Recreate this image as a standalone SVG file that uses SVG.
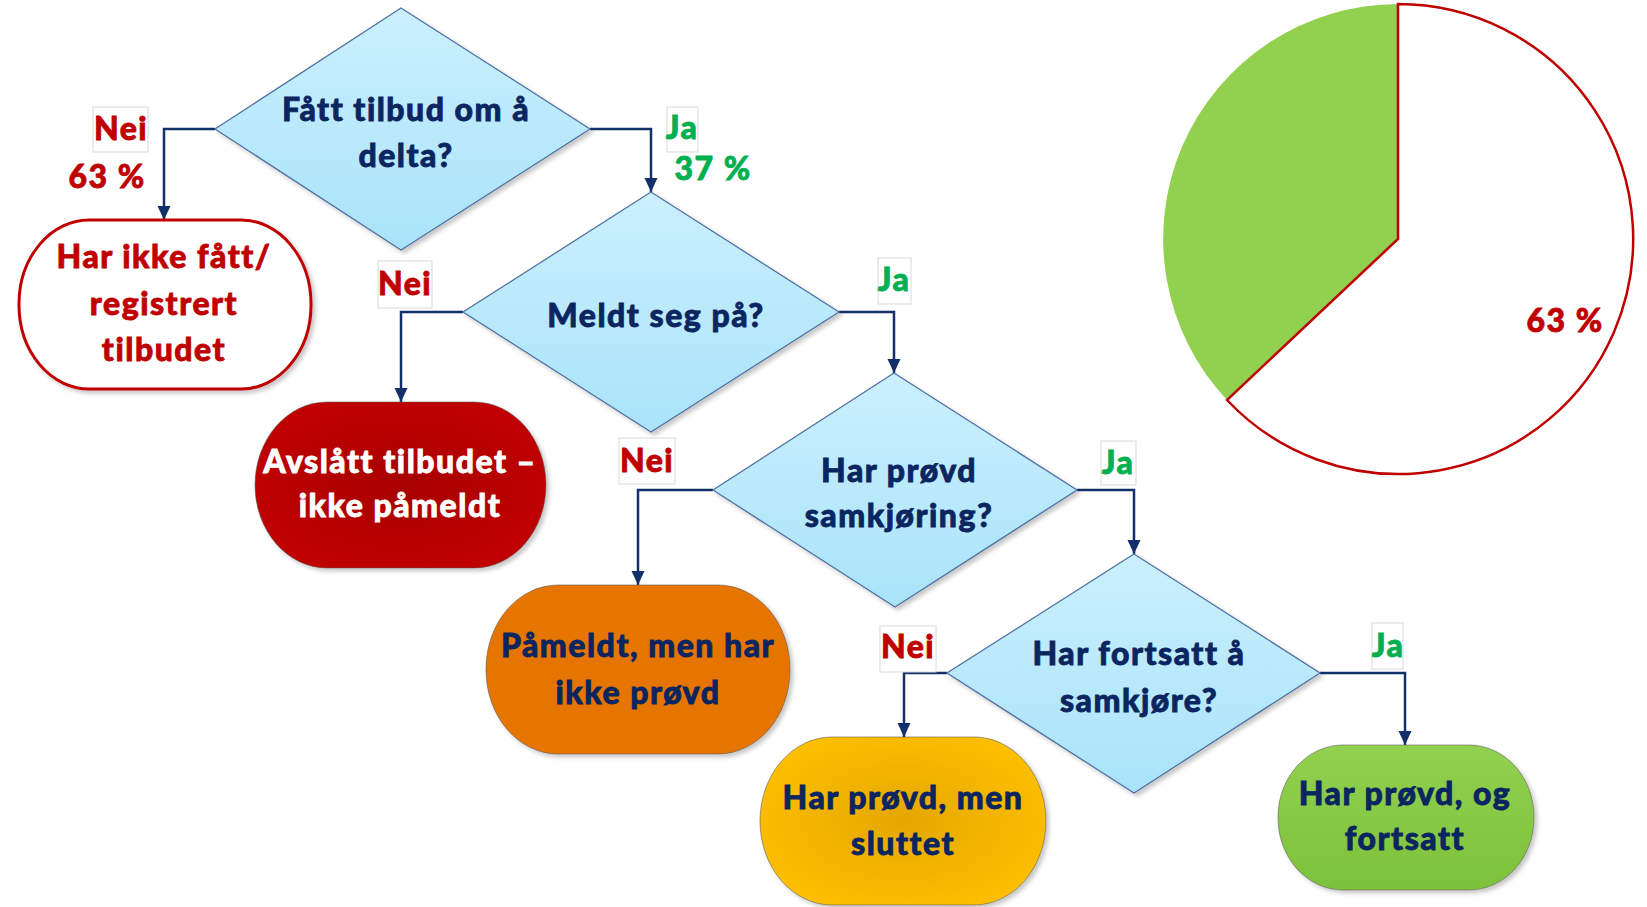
<svg xmlns="http://www.w3.org/2000/svg" width="1647" height="907" viewBox="0 0 1647 907">
<style>
.t{font-family:Lato,"Liberation Sans",sans-serif;font-weight:900;font-size:32px;letter-spacing:1.5px;text-anchor:middle;stroke-width:0.8px}
.navy{fill:#0B2560;stroke:#0B2560}
.red{fill:#C00000;stroke:#C00000}
.green{fill:#00B050;stroke:#00B050}
.white{fill:#FFFFFF;stroke:#FFFFFF}
.dia{fill:url(#gBlue);stroke:#5273A6;stroke-width:1.3;filter:url(#sh)}
.lbl{fill:#FFFFFF;stroke:#D9D9D9;stroke-width:1}
.con{fill:none;stroke:#13306B;stroke-width:2.5;marker-end:url(#arr)}
.nd{stroke:#5A5A5A;stroke-width:0.8;stroke-opacity:0.7;filter:url(#sh)}
</style>
<defs>
<linearGradient id="gBlue" x1="0" y1="0" x2="0" y2="1">
<stop offset="0" stop-color="#CBF0FD"/>
<stop offset="1" stop-color="#A9E3FA"/>
</linearGradient>
<radialGradient id="gRed" cx="0.5" cy="0.5" r="0.6">
<stop offset="0" stop-color="#A80000"/>
<stop offset="1" stop-color="#C20000"/>
</radialGradient>
<radialGradient id="gGold" cx="0.5" cy="0.5" r="0.6">
<stop offset="0" stop-color="#E5A700"/>
<stop offset="1" stop-color="#FFC000"/>
</radialGradient>
<linearGradient id="gGreen" x1="0" y1="0" x2="0" y2="1">
<stop offset="0" stop-color="#92D050"/>
<stop offset="1" stop-color="#7CC23A"/>
</linearGradient>
<filter id="sh" x="-10%" y="-10%" width="125%" height="125%">
<feDropShadow dx="3" dy="3" stdDeviation="2" flood-color="#000" flood-opacity="0.22"/>
</filter>
<marker id="arr" markerUnits="userSpaceOnUse" markerWidth="16" markerHeight="16" viewBox="0 0 16 16" refX="14" refY="8" orient="auto">
<path d="M0,1.5 L14,8 L0,14.5 Z" fill="#13306B"/>
</marker>
</defs>

<g id="pie">
<path d="M1398,239 L1227,400 A235,235 0 0,1 1398,4 Z" fill="#92D050"/>
<path d="M1398,239 L1398,4 A235,235 0 1,1 1227,400 Z" fill="#FFFFFF" stroke="#C00000" stroke-width="2.5"/>
<text class="t red" x="1565" y="332">63 %</text>
</g>

<g id="connectors">
<path class="con" d="M215,129 H164 V220"/>
<path class="con" d="M590,129 H651 V192"/>
<path class="con" d="M463,312 H401 V402"/>
<path class="con" d="M839,312 H894 V373"/>
<path class="con" d="M713,490 H638 V585"/>
<path class="con" d="M1077,490 H1134 V554"/>
<path class="con" d="M947,673 H904 V737"/>
<path class="con" d="M1320,673 H1405 V745"/>
</g>

<g id="d1">
<polygon class="dia" points="401,8 590,129 401,250 215,129"/>
<text class="t navy" x="406" y="121">Fått tilbud om å</text>
<text class="t navy" x="406" y="167">delta?</text>
</g>
<g id="d2">
<polygon class="dia" points="651,192 839,312 651,432 463,312"/>
<text class="t navy" x="656" y="327">Meldt seg på?</text>
</g>
<g id="d3">
<polygon class="dia" points="894,373 1077,490 895,607 713,490"/>
<text class="t navy" x="899" y="482">Har prøvd</text>
<text class="t navy" x="899" y="527">samkjøring?</text>
</g>
<g id="d4">
<polygon class="dia" points="1134,554 1320,673 1134,793 947,673"/>
<text class="t navy" x="1139" y="665">Har fortsatt å</text>
<text class="t navy" x="1139" y="712">samkjøre?</text>
</g>

<g id="n1">
<rect x="19" y="220" width="292" height="169" rx="70" ry="84" fill="#FFFFFF" stroke="#C00000" stroke-width="3" filter="url(#sh)"/>
<text class="t red" x="164" y="268">Har ikke fått/</text>
<text class="t red" x="164" y="315">registrert</text>
<text class="t red" x="164" y="361">tilbudet</text>
</g>
<g id="n2">
<rect class="nd" x="255" y="402" width="291" height="166" rx="72" ry="83" fill="url(#gRed)"/>
<text class="t white" x="400" y="473">Avslått tilbudet –</text>
<text class="t white" x="400" y="517">ikke påmeldt</text>
</g>
<g id="n3">
<rect class="nd" x="486" y="585" width="304" height="169" rx="72" ry="84" fill="#E67400"/>
<text class="t navy" x="638" y="657">Påmeldt, men har</text>
<text class="t navy" x="638" y="704">ikke prøvd</text>
</g>
<g id="n4">
<rect class="nd" x="760" y="737" width="286" height="168" rx="72" ry="84" fill="url(#gGold)"/>
<text class="t navy" x="903" y="809">Har prøvd, men</text>
<text class="t navy" x="903" y="855">sluttet</text>
</g>
<g id="n5">
<rect class="nd" x="1278" y="745" width="256" height="145" rx="65" ry="72" fill="url(#gGreen)"/>
<text class="t navy" x="1405" y="805">Har prøvd, og</text>
<text class="t navy" x="1405" y="850">fortsatt</text>
</g>

<g id="labels">
<rect class="lbl" x="93" y="107" width="55" height="45"/>
<text class="t red" x="121" y="140">Nei</text>
<text class="t red" x="107" y="188">63 %</text>
<rect class="lbl" x="667" y="107" width="31" height="45"/>
<text class="t green" x="682" y="139">Ja</text>
<text class="t green" x="713" y="180">37 %</text>
<rect class="lbl" x="378" y="261" width="54" height="47"/>
<text class="t red" x="405" y="295">Nei</text>
<rect class="lbl" x="878" y="258" width="33" height="46"/>
<text class="t green" x="894" y="291">Ja</text>
<rect class="lbl" x="619" y="438" width="56" height="46"/>
<text class="t red" x="647" y="472">Nei</text>
<rect class="lbl" x="1101" y="441" width="35" height="44"/>
<text class="t green" x="1118" y="474">Ja</text>
<rect class="lbl" x="880" y="626" width="56" height="46"/>
<text class="t red" x="908" y="658">Nei</text>
<rect class="lbl" x="1372" y="623" width="31" height="46"/>
<text class="t green" x="1388" y="657">Ja</text>
</g>
</svg>
